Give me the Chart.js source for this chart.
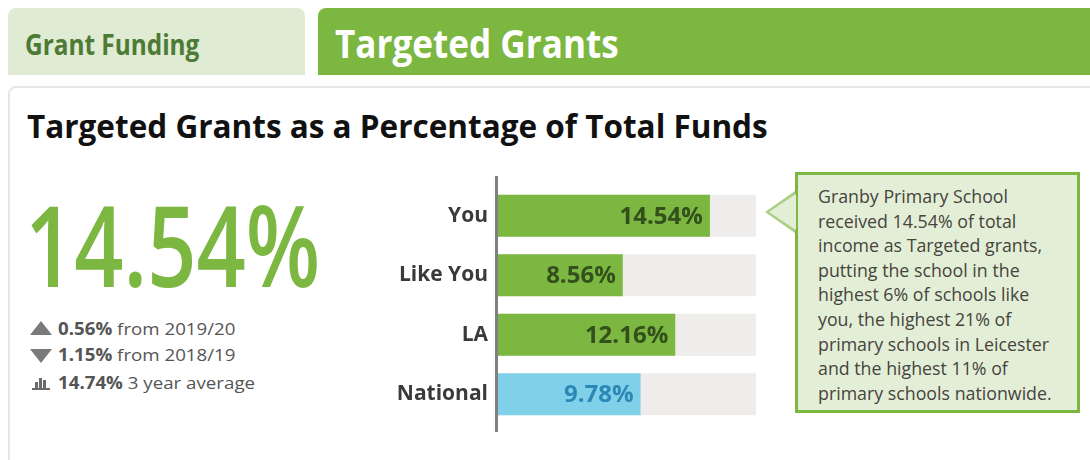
<!DOCTYPE html>
<html>
<head>
<meta charset="utf-8">
<script src="https://cdn.jsdelivr.net/npm/chart.js@4.4.1/dist/chart.umd.min.js"></script>
<style>
  html, body { margin: 0; padding: 0; background: #fff; }
  body { width: 1090px; height: 460px; position: relative; overflow: hidden; font-family: "Open Sans", "Noto Sans", sans-serif; }
  .tab { position: absolute; top: 8px; height: 67px; border-radius: 8px 8px 0 0; }
  .tab-light { left: 8px; width: 297px; background: #dfebd2; }
  .tab-dark { left: 318px; width: 790px; background: #7cb742; }
  .tab span { position: absolute; white-space: nowrap; font-weight: 700; line-height: 1; transform-origin: left top; }
  .tab-light span { left: 17px; top: 22px; font-size: 28px; color: #4d7a35; transform: scaleX(0.87); }
  .tab-dark span { left: 17px; top: 15px; font-size: 39px; color: #fff; transform: scaleX(0.9); }
  .card { position: absolute; left: 8px; top: 86px; width: 1100px; height: 400px; border: 2px solid #e6e6e6; border-radius: 8px 0 0 0; }
  .title { position: absolute; left: 27px; top: 110px; font-size: 31.5px; line-height: 1; font-weight: 700; color: #111; white-space: nowrap; }
  .big { position: absolute; left: 25px; top: 188px; font-size: 112px; font-weight: 600; line-height: 1; color: #7cb742; white-space: nowrap; transform-origin: left top; transform: scaleX(0.77); }
  .stat { position: absolute; left: 30px; font-size: 17px; line-height: 24px; color: #555; white-space: nowrap; }
  .stat .txt { position: absolute; left: 28px; top: 0; transform-origin: left top; transform: scaleX(1.1); }
  .ico { position: absolute; left: 0; width: 0; height: 0; }
  .up { top: 4px; border-left: 11px solid transparent; border-right: 11px solid transparent; border-bottom: 14px solid #7a7a7a; }
  .down { top: 6px; border-left: 11px solid transparent; border-right: 11px solid transparent; border-top: 14px solid #7a7a7a; }
  .avg { position: absolute; left: 2px; top: 5px; width: 18px; height: 14px; }
  .avg i { position: absolute; bottom: 2px; width: 3px; background: #6a6a6a; }
  .avg u { position: absolute; left: 0; bottom: 0; width: 18px; height: 2px; background: #6a6a6a; }
  #chartBox { position: absolute; left: 380px; top: 170px; width: 395px; height: 270px; }
  .callout { position: absolute; left: 795px; top: 172px; width: 279px; height: 235px; background: #e3eed7; border: 3px solid #7cb742; box-sizing: content-box; }
  .callout:before { content: ""; position: absolute; left: -33px; top: 16px; border-top: 21px solid transparent; border-bottom: 21px solid transparent; border-right: 30px solid #a9d084; }
  .callout:after { content: ""; position: absolute; left: -29px; top: 19px; border-top: 18px solid transparent; border-bottom: 18px solid transparent; border-right: 27px solid #e3eed7; }
  .callout p { margin: 0; position: absolute; left: 20px; top: 9px; font-size: 17.8px; line-height: 24.6px; color: #46443c; white-space: nowrap; }
</style>
</head>
<body>
<div class="tab tab-light"><span>Grant Funding</span></div>
<div class="tab tab-dark"><span>Targeted Grants</span></div>
<div class="card"></div>
<div class="title">Targeted Grants as a Percentage of Total Funds</div>
<div class="big" id="bigValue"></div>
<div class="stat" style="top:317px"><span class="ico up"></span><span class="txt"><b id="s1"></b> from 2019/20</span></div>
<div class="stat" style="top:343px"><span class="ico down"></span><span class="txt"><b id="s2"></b> from 2018/19</span></div>
<div class="stat" style="top:371px"><span class="avg"><i style="left:3px;height:6px"></i><i style="left:7px;height:10px"></i><i style="left:11px;height:8px"></i><u></u></span><span class="txt"><b id="s3"></b> 3 year average</span></div>
<div id="chartBox"><canvas id="grantChart"></canvas></div>
<div class="callout"><p>Granby Primary School<br>received 14.54% of total<br>income as Targeted grants,<br>putting the school in the<br>highest 6% of schools like<br>you, the highest 21% of<br>primary schools in Leicester<br>and the highest 11% of<br>primary schools nationwide.</p></div>

<script>
// datos del gráfico
const categories = ['You', 'Like You', 'LA', 'National'];
const values = [14.54, 8.56, 12.16, 9.78];
const barColors = ['#7cb742', '#7cb742', '#7cb742', '#80d0ea'];
const labelColors = ['#33501c', '#33501c', '#33501c', '#2b88b4'];
const trackMax = 17.7;

// resumen de la izquierda
const headline = 14.54;
const changeFromLastYear = 0.56;
const changeFromTwoYears = 1.15;
const threeYearAverage = 14.74;

document.getElementById('bigValue').textContent = headline.toFixed(2) + '%';
document.getElementById('s1').textContent = changeFromLastYear.toFixed(2) + '%';
document.getElementById('s2').textContent = changeFromTwoYears.toFixed(2) + '%';
document.getElementById('s3').textContent = threeYearAverage.toFixed(2) + '%';

// línea vertical del eje, un poco más larga que el área
const axisLine = {
    id: 'axisLine',
    afterDraw(chart) {
        const { ctx, chartArea } = chart;
        ctx.save();
        ctx.strokeStyle = '#808080';
        ctx.lineWidth = 3;
        ctx.beginPath();
        ctx.moveTo(chartArea.left - 1.5, chartArea.top - 10);
        ctx.lineTo(chartArea.left - 1.5, chartArea.bottom + 8);
        ctx.stroke();
        ctx.restore();
    }
};

// etiquetas de valor dentro de cada barra
const valueLabels = {
    id: 'valueLabels',
    afterDatasetsDraw(chart) {
        const { ctx } = chart;
        const meta = chart.getDatasetMeta(0);
        ctx.save();
        ctx.font = 'bold 24px "Open Sans", sans-serif';
        ctx.textAlign = 'right';
        ctx.textBaseline = 'middle';
        meta.data.forEach((bar, i) => {
            ctx.fillStyle = labelColors[i];
            ctx.fillText(values[i].toFixed(2) + '%', bar.x - 7, bar.y + 1);
        });
        ctx.restore();
    }
};

new Chart(document.getElementById('grantChart'), {
    type: 'bar',
    data: {
        labels: categories,
        datasets: [
            {
                data: values,
                backgroundColor: barColors,
                grouped: false,
                order: 0,
                barPercentage: 0.71,
                categoryPercentage: 1
            },
            {
                data: categories.map(() => trackMax),
                backgroundColor: '#eeedeb',
                grouped: false,
                order: 1,
                barPercentage: 0.71,
                categoryPercentage: 1
            }
        ]
    },
    options: {
        indexAxis: 'y',
        responsive: true,
        maintainAspectRatio: false,
        animation: false,
        layout: { padding: { top: 16, bottom: 16, right: 19, left: 0 } },
        scales: {
            x: { min: 0, max: trackMax, display: false },
            y: {
                grid: { display: false, drawTicks: false },
                border: { display: false },
                ticks: {
                    color: '#3a3a3a',
                    padding: 10,
                    font: { family: '"Open Sans", sans-serif', size: 21, weight: 'bold' }
                },
                afterFit: (scale) => {
                    scale.width = 118;
                    scale.paddingTop = 0;
                    scale.paddingBottom = 0;
                }
            }
        },
        plugins: {
            legend: { display: false },
            tooltip: { enabled: false }
        }
    },
    plugins: [axisLine, valueLabels]
});
</script>
</body>
</html>
